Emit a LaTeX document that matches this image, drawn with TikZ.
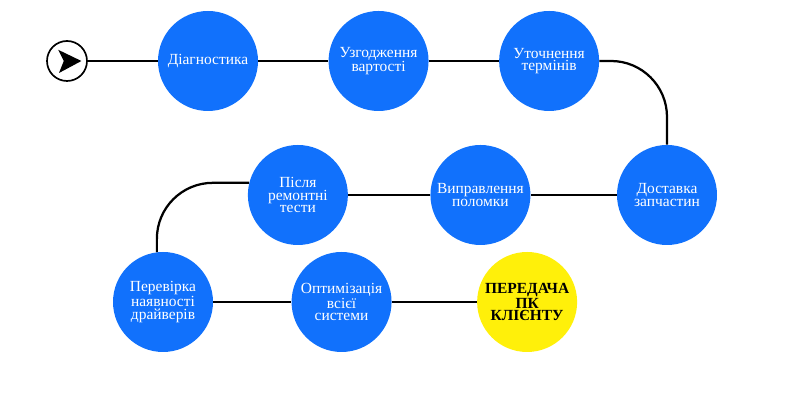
\documentclass[tikz,border=0pt]{standalone}
\usepackage{fontspec}
\setmainfont{Liberation Serif}
\usetikzlibrary{arrows.meta,positioning}
\definecolor{stepblue}{RGB}{17,113,252}
\definecolor{stepyellow}{RGB}{255,240,10}

\begin{document}
\begin{tikzpicture}[
  stage/.style={circle, fill=stepblue, minimum size=2.5cm, inner sep=0pt,
                align=center, text=white, font=\fontsize{11}{9}\selectfont},
  finish/.style={stage, fill=stepyellow, text=black,
                 font=\fontsize{11}{8.5}\selectfont\bfseries},
  link/.style={line width=1.6pt},
]
\useasboundingbox (0,0) rectangle (20,10);

% Start marker
\node[circle, draw, line width=1.2pt, minimum size=1cm] (start) at (1.675,8.475) {};
\fill[shift={(start.center)}] (0.36,0) -- (-0.22,0.28) -- (-0.08,0) -- (-0.2,-0.3) -- cycle;

% First row
\node[stage] (diag) at (5.2,8.475) {Діагностика};
\node[stage, right=1.75cm of diag] (uzgod) {Узгодження\\вартості};
\node[stage, right=1.75cm of uzgod] (utoch) {Уточнення\\термінів};

% Second row (right to left)
\node[stage] (dost) at (16.675,5.125) {Доставка\\запчастин};
\node[stage, left=2.15cm of dost] (vypr) {Виправлення\\поломки};
\node[stage, left=2.05cm of vypr] (pisl) {Після\\ремонтні\\тести};

% Third row
\node[stage] (perev) at (4.075,2.45) {Перевірка\\наявності\\драйверів};
\node[stage, right=1.95cm of perev] (optim) {Оптимізація\\всієї\\системи};
\node[finish, right=2.125cm of optim] (pered) {ПЕРЕДАЧА\\ПК\\КЛІЄНТУ};

% Connectors
\draw[link] (start) -- (diag);
\draw[link] (diag) -- (uzgod);
\draw[link] (uzgod) -- (utoch);
\draw[link, rounded corners=1.4cm] (utoch.east) -| (dost.north);
\draw[link] (dost) -- (vypr);
\draw[link] (vypr) -- (pisl);
\draw[link, rounded corners=1.4cm] (pisl.166) -| (perev.97);
\draw[link] (perev) -- (optim);
\draw[link] (optim) -- (pered);

\end{tikzpicture}
\end{document}
